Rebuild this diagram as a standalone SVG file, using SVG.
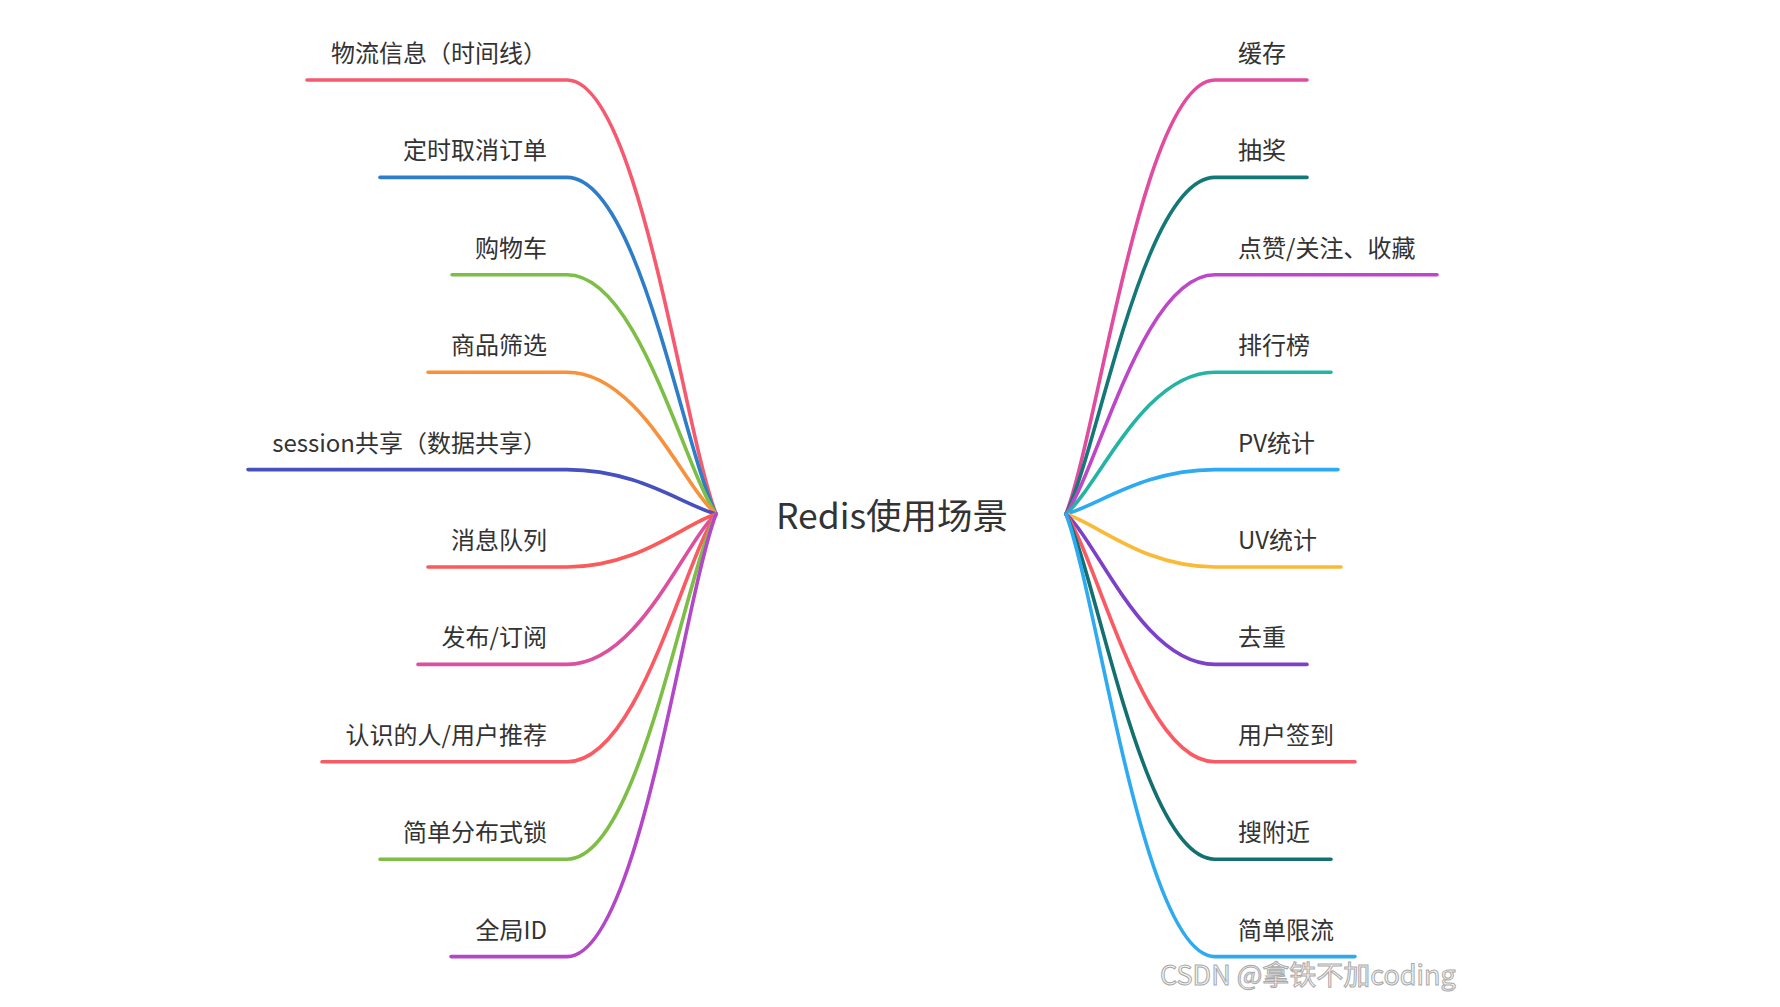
<svg xmlns="http://www.w3.org/2000/svg" width="1780" height="1007" viewBox="0 0 1780 1007">
<style>
.bg{fill:#ffffff}
.ln{fill:none;stroke-width:3.6;stroke-linecap:round}
.lbl{font-family:"Noto Sans CJK SC","Noto Sans",sans-serif;font-size:24px;fill:#333333}
.l{text-anchor:end}
.root{font-family:"Noto Sans CJK SC","Noto Sans",sans-serif;font-size:35.5px;fill:#333333;text-anchor:middle}
.wm{font-family:"Noto Sans CJK SC","Noto Sans",sans-serif;font-size:27px;fill:#f4f4f4;stroke:#9a9a9a;stroke-width:1;opacity:0.85}
</style>
<rect class="bg" x="0" y="0" width="1780" height="1007"/>
<g id="connectors">
<path class="ln" stroke="#f55a6e" d="M307 80 H567 C638.5 80 683 427.2 716 514"/>
<path class="ln" stroke="#2e7dc8" d="M380 177.4 H567 C638.5 177.4 683 446.7 716 514"/>
<path class="ln" stroke="#7dbe46" d="M452 274.8 H567 C638.5 274.8 683 466.2 716 514"/>
<path class="ln" stroke="#f8913c" d="M428 372.2 H567 C638.5 372.2 683 485.6 716 514"/>
<path class="ln" stroke="#4650be" d="M248 469.6 H567 C638.5 469.6 683 505.1 716 514"/>
<path class="ln" stroke="#fa5a5a" d="M428 567 H567 C638.5 567 683 524.6 716 514"/>
<path class="ln" stroke="#dc50a0" d="M418 664.4 H567 C638.5 664.4 683 544.1 716 514"/>
<path class="ln" stroke="#fa5a64" d="M322 761.8 H567 C638.5 761.8 683 563.6 716 514"/>
<path class="ln" stroke="#7dbe46" d="M380 859.2 H567 C638.5 859.2 683 583 716 514"/>
<path class="ln" stroke="#b446c8" d="M451 956.6 H567 C638.5 956.6 683 602.5 716 514"/>
<path class="ln" stroke="#e14ba0" d="M1066 514 C1099 427.2 1143.5 80 1215 80 H1307"/>
<path class="ln" stroke="#147878" d="M1066 514 C1099 446.7 1143.5 177.4 1215 177.4 H1307"/>
<path class="ln" stroke="#be46c8" d="M1066 514 C1099 466.2 1143.5 274.8 1215 274.8 H1437"/>
<path class="ln" stroke="#23b4a5" d="M1066 514 C1099 485.6 1143.5 372.2 1215 372.2 H1331"/>
<path class="ln" stroke="#2daaf0" d="M1066 514 C1099 505.1 1143.5 469.6 1215 469.6 H1338"/>
<path class="ln" stroke="#fab937" d="M1066 514 C1099 524.6 1143.5 567 1215 567 H1341"/>
<path class="ln" stroke="#7d41c8" d="M1066 514 C1099 544.1 1143.5 664.4 1215 664.4 H1307"/>
<path class="ln" stroke="#fa5a64" d="M1066 514 C1099 563.6 1143.5 761.8 1215 761.8 H1355"/>
<path class="ln" stroke="#147070" d="M1066 514 C1099 583 1143.5 859.2 1215 859.2 H1331"/>
<path class="ln" stroke="#2daaf0" d="M1066 514 C1099 602.5 1143.5 956.6 1215 956.6 H1355"/>
</g>
<g id="root"><text class="root" x="892" y="529">Redis使用场景</text></g>
<g id="n-l1"><text class="lbl l" x="547" y="62">物流信息（时间线）</text></g>
<g id="n-l2"><text class="lbl l" x="547" y="159.4">定时取消订单</text></g>
<g id="n-l3"><text class="lbl l" x="547" y="256.8">购物车</text></g>
<g id="n-l4"><text class="lbl l" x="547" y="354.2">商品筛选</text></g>
<g id="n-l5"><text class="lbl l" x="547" y="451.6">session共享（数据共享）</text></g>
<g id="n-l6"><text class="lbl l" x="547" y="549">消息队列</text></g>
<g id="n-l7"><text class="lbl l" x="547" y="646.4">发布/订阅</text></g>
<g id="n-l8"><text class="lbl l" x="547" y="743.8">认识的人/用户推荐</text></g>
<g id="n-l9"><text class="lbl l" x="547" y="841.2">简单分布式锁</text></g>
<g id="n-l10"><text class="lbl l" x="547" y="938.6">全局ID</text></g>
<g id="n-r1"><text class="lbl" x="1238" y="62">缓存</text></g>
<g id="n-r2"><text class="lbl" x="1238" y="159.4">抽奖</text></g>
<g id="n-r3"><text class="lbl" x="1238" y="256.8">点赞/关注、收藏</text></g>
<g id="n-r4"><text class="lbl" x="1238" y="354.2">排行榜</text></g>
<g id="n-r5"><text class="lbl" x="1238" y="451.6">PV统计</text></g>
<g id="n-r6"><text class="lbl" x="1238" y="549">UV统计</text></g>
<g id="n-r7"><text class="lbl" x="1238" y="646.4">去重</text></g>
<g id="n-r8"><text class="lbl" x="1238" y="743.8">用户签到</text></g>
<g id="n-r9"><text class="lbl" x="1238" y="841.2">搜附近</text></g>
<g id="n-r10"><text class="lbl" x="1238" y="938.6">简单限流</text></g>
<g id="watermark"><text class="wm" x="1160" y="985">CSDN @拿铁不加coding</text></g>
</svg>
